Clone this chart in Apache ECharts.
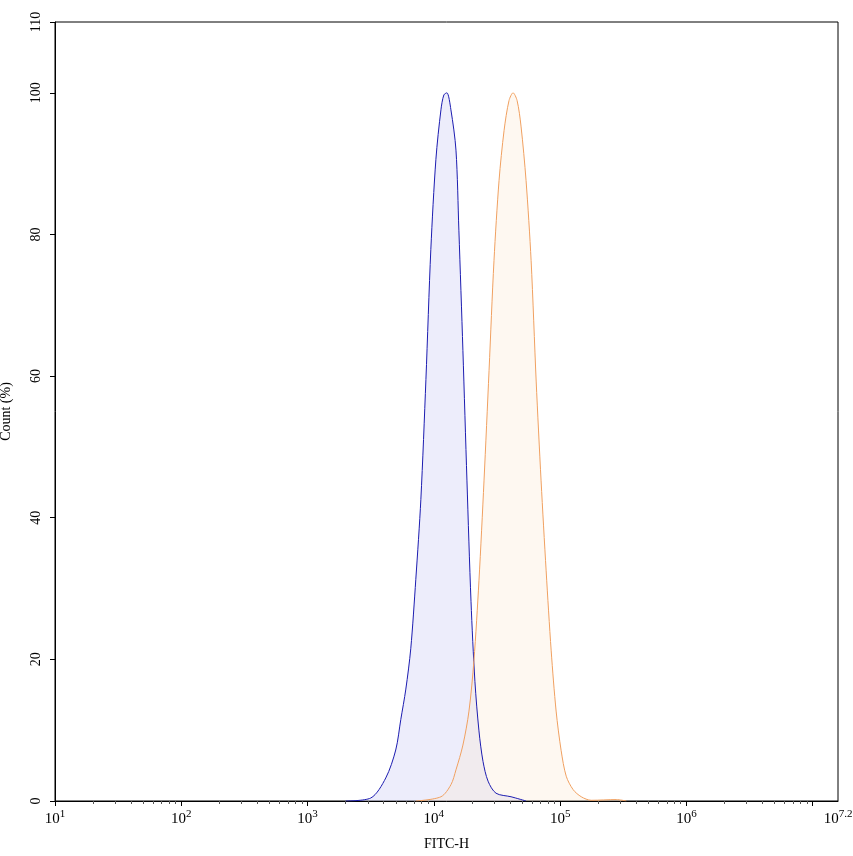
<!DOCTYPE html>
<html><head><meta charset="utf-8">
<script src="https://cdn.jsdelivr.net/npm/echarts@6/dist/echarts.min.js"></script>
<style>html,body{margin:0;padding:0;background:#fff}#c{width:853px;height:856px}</style>
</head><body><div id="c"></div>
<script>
// x values are log10(FITC-H)
const blueX = [3.302,3.500,3.619,3.698,3.738,3.778,3.817,3.857,3.897,3.937,3.976,4.016,4.056,4.079,4.103,4.135,4.175,4.198,4.230,4.262,4.294,4.325,4.357,4.389,4.429,4.492,4.611,4.730];
const blueY = [0,0.42,3.25,7.2,11.5,15.8,21.5,31.3,42.6,59.5,77.9,90.6,97.6,99.7,100,97.6,91.9,80.6,63.6,45.2,28.2,16.9,9.9,5.6,2.8,1.1,0.6,0];
const orangeX = [3.857,4.056,4.135,4.175,4.230,4.278,4.317,4.357,4.397,4.437,4.476,4.516,4.556,4.595,4.627,4.659,4.690,4.730,4.770,4.810,4.849,4.889,4.929,4.968,5.008,5.048,5.103,5.167,5.246,5.444,5.524];
const orangeY = [0,0.6,2.3,4.4,7.9,12.7,19.8,31.1,45.2,60.8,76.3,87.6,94.7,98.9,100,98.9,95.3,87.6,76.3,59.3,45.2,32.5,21.2,12.7,7.1,3.5,1.6,0.6,0.1,0.2,0];
const xMajor = [1,2,3,4,5,6,7];
const xLabels = [1,2,3,4,5,6,7.2];
const yLabels = [0,20,40,60,80,100,110];
const xMinor = [];
for (let d=1; d<8; d++) for (let m=2; m<10; m++){const v=d+Math.log10(m); if(v<7.2) xMinor.push(v);}
const font = '"Liberation Serif","DejaVu Serif",serif';
const zip=(a,b)=>a.map((v,i)=>[v,b[i]]);
const chart = echarts.init(document.getElementById('c'));
chart.setOption({
  animation:false,
  grid:{left:55,right:15,top:22,bottom:55,containLabel:false,outerBoundsMode:'none',show:true,borderColor:'#000',borderWidth:1},
  xAxis:[{
    type:'value',min:1,max:7.2,
    name:'FITC-H',nameLocation:'middle',nameGap:36,
    nameTextStyle:{fontFamily:font,fontSize:14,color:'#000'},
    axisLine:{lineStyle:{color:'#000'}},
    axisTick:{show:true,length:5,customValues:xMajor,lineStyle:{color:'#000'}},
    splitLine:{show:false},
    axisLabel:{customValues:xLabels,margin:8,color:'#000',
      formatter:v=>'{b|10}{s|'+(Math.round(v*10)/10)+'}',
      rich:{b:{fontFamily:font,fontSize:15,color:'#000'},s:{fontFamily:font,fontSize:11,color:'#000',padding:[0,0,10,0]}}}
  },{
    type:'value',min:1,max:7.2,position:'bottom',
    axisLine:{show:false},
    axisTick:{show:true,length:3,customValues:xMinor,lineStyle:{color:'#555'}},
    axisLabel:{show:false},splitLine:{show:false}
  }],
  yAxis:{
    type:'value',min:0,max:110,
    name:'Count (%)',nameLocation:'middle',nameGap:42,
    nameTextStyle:{fontFamily:font,fontSize:14,color:'#000'},
    axisLine:{show:true,lineStyle:{color:'#000'}},
    axisTick:{show:true,length:5,customValues:yLabels,lineStyle:{color:'#000'}},
    splitLine:{show:false},
    axisLabel:{customValues:yLabels,rotate:90,margin:12,fontFamily:font,fontSize:14,color:'#000'}
  },
  series:[
    {type:'line',data:zip(blueX,blueY),smooth:0.3,symbol:'none',
     lineStyle:{color:'#1c1cb0',width:1},areaStyle:{color:'rgba(205,205,245,0.5)'}},
    {type:'line',data:zip(orangeX,orangeY),smooth:0.3,symbol:'none',
     lineStyle:{color:'#f0a060',width:1},areaStyle:{color:'rgba(252,230,205,0.4)'}}
  ]
});
</script></body></html>
